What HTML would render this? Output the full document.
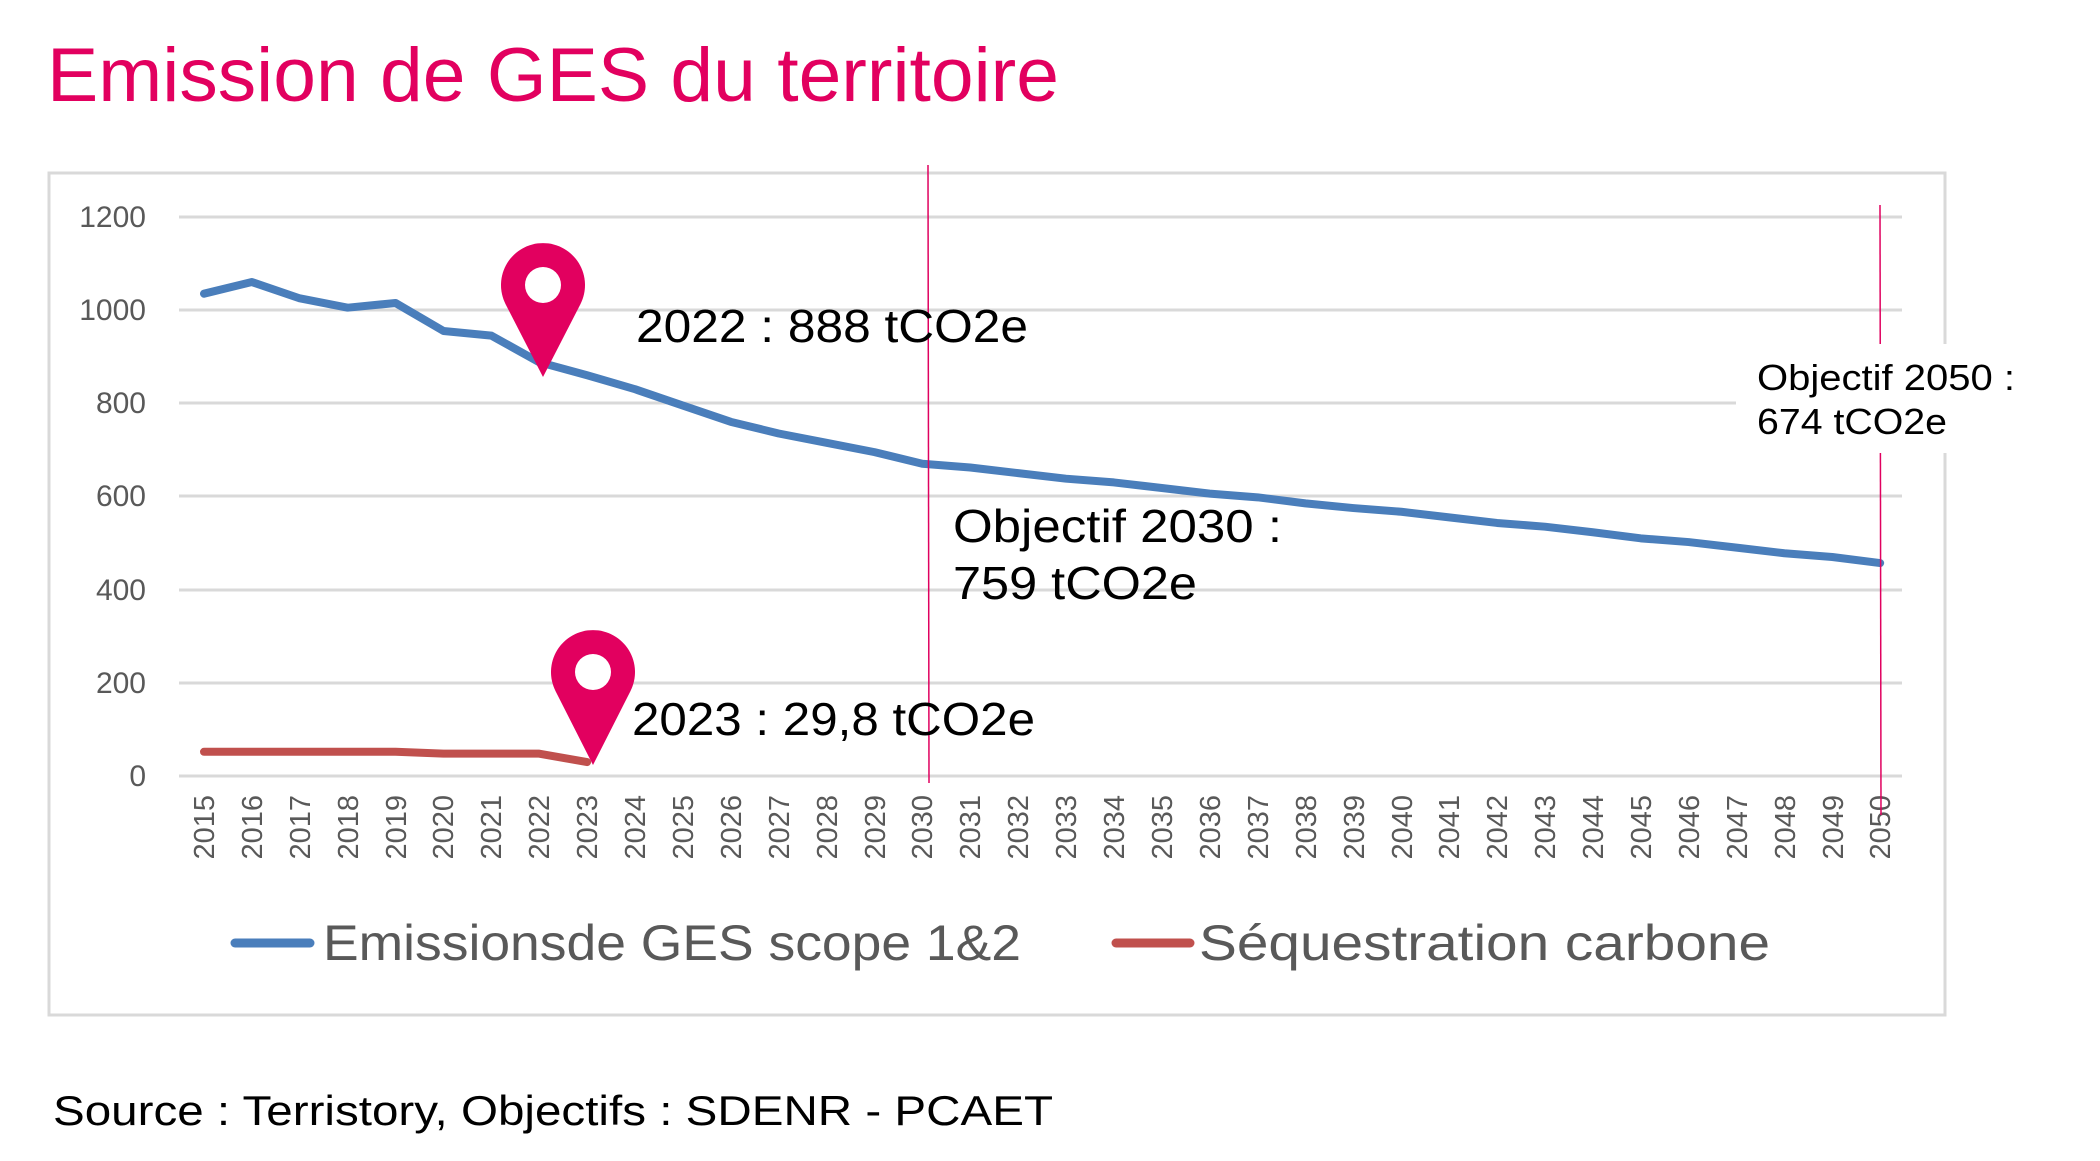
<!DOCTYPE html>
<html><head><meta charset="utf-8"><style>
html,body{margin:0;padding:0;background:#fff;}
svg{display:block;}
</style></head><body>
<svg width="2100" height="1161" viewBox="0 0 2100 1161" xmlns="http://www.w3.org/2000/svg">
<rect width="2100" height="1161" fill="#fff"/>
<text x="47" y="101" font-family="Liberation Sans, sans-serif" font-size="76" fill="#e2005f" textLength="1012" lengthAdjust="spacingAndGlyphs">Emission de GES du territoire</text>
<rect x="49" y="173" width="1896" height="842" fill="none" stroke="#d9d9d9" stroke-width="3"/>
<g stroke="#d9d9d9" stroke-width="3">
<line x1="179" x2="1902" y1="217" y2="217"/>
<line x1="179" x2="1902" y1="310" y2="310"/>
<line x1="179" x2="1902" y1="403" y2="403"/>
<line x1="179" x2="1902" y1="496" y2="496"/>
<line x1="179" x2="1902" y1="590" y2="590"/>
<line x1="179" x2="1902" y1="683" y2="683"/>
<line x1="179" x2="1902" y1="776" y2="776"/>
</g>
<g font-family="Liberation Sans, sans-serif" font-size="30" fill="#595959" text-anchor="end">
<text x="146" y="227">1200</text><text x="146" y="320">1000</text><text x="146" y="413">800</text>
<text x="146" y="506">600</text><text x="146" y="600">400</text><text x="146" y="693">200</text><text x="146" y="786">0</text>
</g>
<g font-family="Liberation Sans, sans-serif" font-size="29" fill="#595959" text-anchor="end">
<text transform="translate(214,795) rotate(-90)">2015</text>
<text transform="translate(262,795) rotate(-90)">2016</text>
<text transform="translate(310,795) rotate(-90)">2017</text>
<text transform="translate(358,795) rotate(-90)">2018</text>
<text transform="translate(406,795) rotate(-90)">2019</text>
<text transform="translate(453,795) rotate(-90)">2020</text>
<text transform="translate(501,795) rotate(-90)">2021</text>
<text transform="translate(549,795) rotate(-90)">2022</text>
<text transform="translate(597,795) rotate(-90)">2023</text>
<text transform="translate(645,795) rotate(-90)">2024</text>
<text transform="translate(693,795) rotate(-90)">2025</text>
<text transform="translate(741,795) rotate(-90)">2026</text>
<text transform="translate(789,795) rotate(-90)">2027</text>
<text transform="translate(837,795) rotate(-90)">2028</text>
<text transform="translate(885,795) rotate(-90)">2029</text>
<text transform="translate(932,795) rotate(-90)">2030</text>
<text transform="translate(980,795) rotate(-90)">2031</text>
<text transform="translate(1028,795) rotate(-90)">2032</text>
<text transform="translate(1076,795) rotate(-90)">2033</text>
<text transform="translate(1124,795) rotate(-90)">2034</text>
<text transform="translate(1172,795) rotate(-90)">2035</text>
<text transform="translate(1220,795) rotate(-90)">2036</text>
<text transform="translate(1268,795) rotate(-90)">2037</text>
<text transform="translate(1316,795) rotate(-90)">2038</text>
<text transform="translate(1364,795) rotate(-90)">2039</text>
<text transform="translate(1412,795) rotate(-90)">2040</text>
<text transform="translate(1459,795) rotate(-90)">2041</text>
<text transform="translate(1507,795) rotate(-90)">2042</text>
<text transform="translate(1555,795) rotate(-90)">2043</text>
<text transform="translate(1603,795) rotate(-90)">2044</text>
<text transform="translate(1651,795) rotate(-90)">2045</text>
<text transform="translate(1699,795) rotate(-90)">2046</text>
<text transform="translate(1747,795) rotate(-90)">2047</text>
<text transform="translate(1795,795) rotate(-90)">2048</text>
<text transform="translate(1843,795) rotate(-90)">2049</text>
<text transform="translate(1890,795) rotate(-90)">2050</text>
</g>
<polyline fill="none" stroke="#4a7ebb" stroke-width="8" stroke-linejoin="round" stroke-linecap="round" id="blue"/>
<polyline fill="none" stroke="#c0504d" stroke-width="8" stroke-linejoin="round" stroke-linecap="round" id="red"/>
<line x1="928" y1="165" x2="929" y2="783" stroke="#e0005f" stroke-width="1.5"/>
<line x1="1880" y1="205" x2="1881" y2="815" stroke="#e0005f" stroke-width="1.5"/>
<rect x="1736" y="344" width="230" height="109" fill="#fff"/>
<g font-family="Liberation Sans, sans-serif" fill="#000">
<text x="1757" y="390" font-size="36" textLength="258" lengthAdjust="spacingAndGlyphs">Objectif 2050 :</text>
<text x="1757" y="434" font-size="36" textLength="190" lengthAdjust="spacingAndGlyphs">674 tCO2e</text>
<text x="636" y="342" font-size="46" textLength="392" lengthAdjust="spacingAndGlyphs">2022 : 888 tCO2e</text>
<text x="953" y="542" font-size="46" textLength="329" lengthAdjust="spacingAndGlyphs">Objectif 2030 :</text>
<text x="953" y="599" font-size="46" textLength="244" lengthAdjust="spacingAndGlyphs">759 tCO2e</text>
<text x="632" y="735" font-size="46" textLength="403" lengthAdjust="spacingAndGlyphs">2023 : 29,8 tCO2e</text>
<text x="53" y="1125" font-size="42" textLength="1000" lengthAdjust="spacingAndGlyphs">Source : Terristory, Objectifs : SDENR - PCAET</text>
</g>
<g fill="#e2005f">
<path d="M505.6,304.2 A42,42 0 1 1 580.4,304.2 L543,377 Z"/>
<path d="M555.6,691.2 A42,42 0 1 1 630.4,691.2 L593,765 Z"/>
</g>
<circle cx="543" cy="285" r="18" fill="#fff"/>
<circle cx="593" cy="672" r="18" fill="#fff"/>
<line x1="235" y1="943" x2="310" y2="943" stroke="#4a7ebb" stroke-width="9" stroke-linecap="round"/>
<line x1="1116" y1="943" x2="1190" y2="943" stroke="#c0504d" stroke-width="9" stroke-linecap="round"/>
<g font-family="Liberation Sans, sans-serif" font-size="50" fill="#595959">
<text x="323" y="960" textLength="698" lengthAdjust="spacingAndGlyphs">Emissionsde GES scope 1&amp;2</text>
<text x="1199" y="960" textLength="571" lengthAdjust="spacingAndGlyphs">Séquestration carbone</text>
</g>
<script>
var b=[1035,1060,1025,1005,1015,955,945,888,860,830,795,760,735,715,695,670,662,650,638,630,618,606,598,585,575,567,555,543,535,523,510,502,490,478,470,457];
var r=[52,52,52,52,52,48,48,48,29.8];
function X(i){return 204+i*47.89;} function Y(v){return 776-v*0.466;}
document.getElementById('blue').setAttribute('points',b.map(function(v,i){return X(i)+','+Y(v)}).join(' '));
document.getElementById('red').setAttribute('points',r.map(function(v,i){return X(i)+','+Y(v)}).join(' '));
</script>
</svg>
</body></html>
